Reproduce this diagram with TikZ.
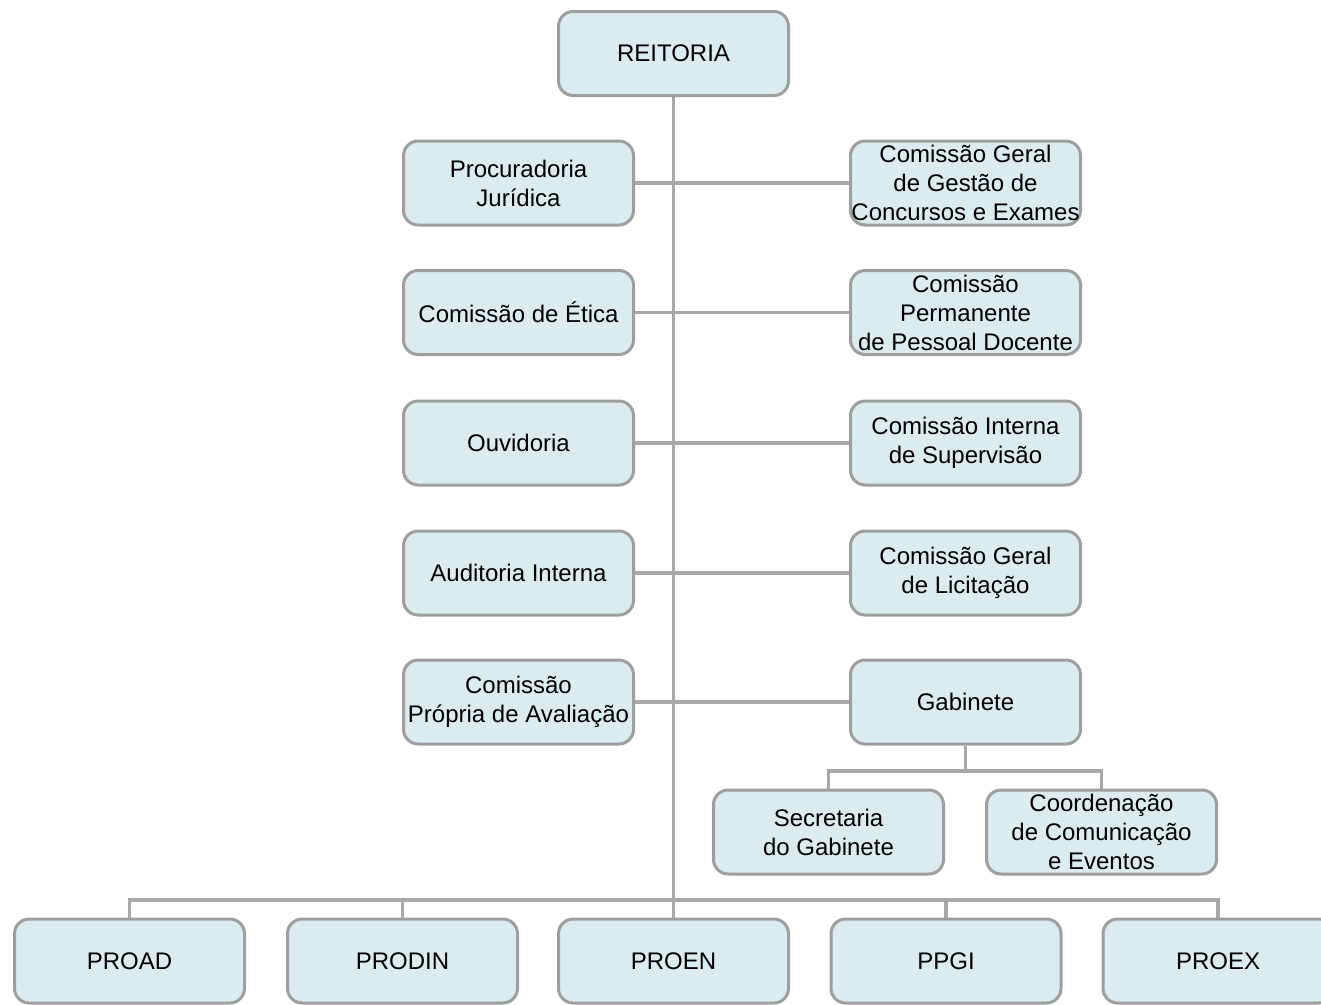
\documentclass[tikz,border=0pt]{standalone}
\usepackage{fontspec}
\setmainfont{Liberation Sans}
\usetikzlibrary{positioning}
\definecolor{boxfill}{RGB}{219,236,240}
\definecolor{boxline}{RGB}{158,158,158}
\definecolor{linkline}{RGB}{168,168,168}

\begin{document}
\begin{tikzpicture}[x=0.75pt, y=-0.75pt,
  every node/.style = {shape=rectangle, rounded corners=11pt,
    draw=boxline, line width=2.25pt, fill=boxfill, align=center,
    minimum width=172.5pt, minimum height=63pt, inner sep=0pt,
    font=\fontsize{18pt}{21.75pt}\selectfont},
  link/.style = {draw=linkline, line width=2.4pt}]
  \useasboundingbox (0,0) rectangle (1321,1004);
  % top and the two columns
  \node (reit) at (673.5,53.5) {REITORIA};
  \node (proc) at (518.5,183)   {Procuradoria\\Jurídica};
  \node (etic) at (518.5,312.5) {Comissão de Ética};
  \node (ouvi) at (518.5,443)   {Ouvidoria};
  \node (audi) at (518.5,573)   {Auditoria Interna};
  \node (cpa)  at (518.5,702)   {Comissão\\Própria de Avaliação};
  \node (cgge) at (965.5,183)   {Comissão Geral\\de Gestão de\\Concursos e Exames};
  \node (cppd) at (965.5,312.5) {Comissão\\Permanente\\de Pessoal Docente};
  \node (cis)  at (965.5,443)   {Comissão Interna\\de Supervisão};
  \node (cgl)  at (965.5,573)   {Comissão Geral\\de Licitação};
  \node (gab)  at (965.5,702)   {Gabinete};
  \node (secg) at (828.5,832)   {Secretaria\\do Gabinete};
  \node (ccev) at (1101.5,832)  {Coordenação\\de Comunicação\\e Eventos};
  % pro-reitorias
  \node (proad)  at (129.5,961) {PROAD};
  \node (prodin) at (402.5,961) {PRODIN};
  \node (proen)  at (673.5,961) {PROEN};
  \node (ppgi)   at (946,961)   {PPGI};
  \node (proex)  at (1218,961)  {PROEX};
  \coordinate (bus)  at (673.5,900);
  \coordinate (fork) at (965.5,771);
  % connectors
  \path[link] (reit.south) -- (proen.north);
  \foreach \l/\r in {proc/cgge, etic/cppd, ouvi/cis, audi/cgl, cpa/gab}
    \path[link] (\l.east) -- (\r.west);
  \path[link] (gab.south) -- (fork);
  \path[link] (secg.north) |- (fork) -| (ccev.north);
  \path[link] (proad.north) |- (bus) -| (proex.north);
  \foreach \n in {prodin, ppgi}
    \path[link] (\n.north) -- (\n.north |- bus);
\end{tikzpicture}
\end{document}
